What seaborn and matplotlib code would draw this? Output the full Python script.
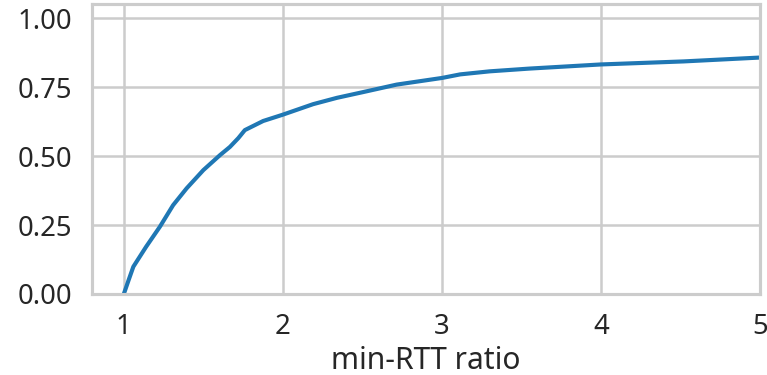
import matplotlib
matplotlib.use("Agg")
import matplotlib.pyplot as plt
import seaborn as sns
import pandas as pd

# CDF of the min-RTT ratio
ratio = [1.0, 1.03, 1.06, 1.14, 1.227, 1.31, 1.395, 1.50, 1.604, 1.667, 1.72,
         1.761, 1.876, 2.0, 2.19, 2.34, 2.506, 2.716, 3.0, 3.115, 3.30, 3.55,
         4.0, 4.52, 5.0]
cdf = [0.0, 0.05, 0.099, 0.171, 0.244, 0.322, 0.383, 0.449, 0.503, 0.533, 0.565,
       0.594, 0.627, 0.650, 0.688, 0.711, 0.732, 0.759, 0.783, 0.796, 0.807, 0.817,
       0.832, 0.843, 0.857]

xticks = [1, 2, 3, 4, 5]
yticks = [0.0, 0.25, 0.50, 0.75, 1.00]

sns.set_theme(style="whitegrid", context="poster")
plt.rcParams["font.family"] = ["Noto Sans", "DejaVu Sans"]

df = pd.DataFrame({"min-RTT ratio": ratio, "CDF": cdf})

DPI = 90
fig, ax = plt.subplots(figsize=(767 / DPI, 375 / DPI), dpi=DPI)
sns.lineplot(data=df, x="min-RTT ratio", y="CDF", ax=ax, color="#1f77b4", linewidth=3.3)

ax.set_xlim(0.8, 5.0)
ax.set_ylim(0.0, 1.05)
ax.set_xticks(xticks)
ax.set_yticks(yticks)
ax.set_yticklabels([f"{v:.2f}" for v in yticks])
ax.set_ylabel("")
ax.set_xlabel("min-RTT ratio")

fig.subplots_adjust(left=92 / 767, right=760 / 767, top=1 - 4.3 / 375, bottom=1 - 294 / 375)
fig.savefig("out.png", dpi=DPI)
